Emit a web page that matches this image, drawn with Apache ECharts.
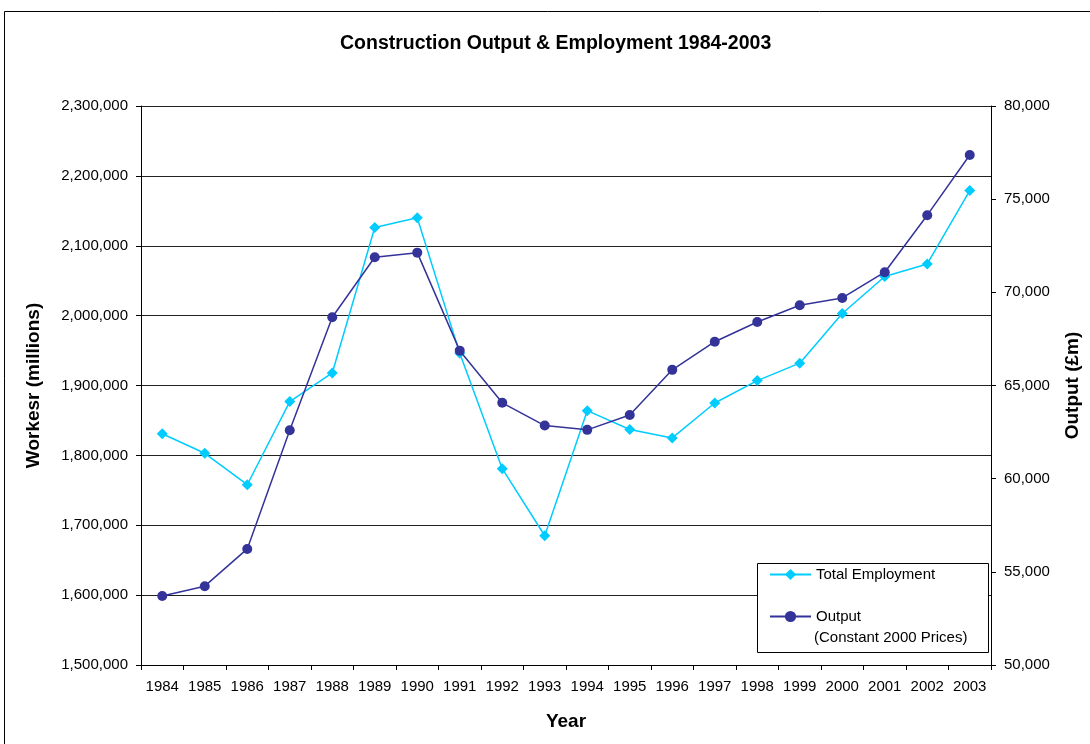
<!DOCTYPE html>
<html>
<head>
<meta charset="utf-8">
<script src="https://cdn.jsdelivr.net/npm/echarts@6/dist/echarts.min.js"></script>
<style>
  html, body { margin: 0; padding: 0; background: #fff; overflow: hidden; }
  #chart { width: 1090px; height: 744px; }
</style>
</head>
<body>
<div id="chart"></div>
<script>
// Years on the category axis
const years = ['1984','1985','1986','1987','1988','1989','1990','1991','1992','1993',
               '1994','1995','1996','1997','1998','1999','2000','2001','2002','2003'];

// Total construction employment (workers)
const totalEmployment = [1831000, 1803000, 1758000, 1877000, 1918000, 2126000, 2140000, 1946000,
                         1781000, 1685000, 1864000, 1837000, 1825000, 1875000, 1907000, 1932000,
                         2003000, 2056000, 2074000, 2179000];

// Construction output, £m at constant 2000 prices
const output = [53700, 54230, 56230, 62600, 68660, 71880, 72130, 66870, 64070, 62850,
                62620, 63420, 65840, 67350, 68410, 69310, 69700, 71080, 74140, 77370];

const FONT = '"Liberation Sans", Arial, Helvetica, sans-serif';
const fmt = v => v.toLocaleString('en-US');

const el = document.getElementById('chart');
const chart = echarts.init(el, null, { renderer: 'canvas', width: 1090, height: 744 });

chart.setOption({
  backgroundColor: '#ffffff',
  animation: false,
  textStyle: { fontFamily: FONT, color: '#000' },
  title: {
    text: 'Construction Output & Employment 1984-2003',
    left: 340,
    top: 34,
    padding: 0,
    textStyle: { fontFamily: FONT, fontSize: 19.5, fontWeight: 'bold', color: '#000' }
  },
  grid: { left: 141, right: 88, top: 106, bottom: 79, containLabel: false },
  legend: {
    orient: 'vertical',
    left: 769,
    top: 567,
    padding: 0,
    itemWidth: 41,
    itemHeight: 14,
    itemGap: 27,
    textStyle: { fontFamily: FONT, fontSize: 15, color: '#000' },
    data: ['Total Employment', 'Output']
  },
  xAxis: {
    type: 'category',
    data: years,
    boundaryGap: true,
    name: 'Year',
    nameLocation: 'middle',
    nameGap: 47,
    nameTextStyle: { fontFamily: FONT, fontSize: 19, fontWeight: 'bold', color: '#000' },
    axisLine: { lineStyle: { color: '#000', width: 1 } },
    axisTick: { show: true, length: 5, lineStyle: { color: '#000' } },
    axisLabel: { fontFamily: FONT, fontSize: 15, color: '#000', margin: 14, interval: 0 },
    splitLine: { show: false }
  },
  yAxis: [
    {
      type: 'value',
      position: 'left',
      min: 1500000,
      max: 2300000,
      interval: 100000,
      name: 'Workesr (millions)',
      nameLocation: 'middle',
      nameGap: 98,
      nameTextStyle: { fontFamily: FONT, fontSize: 19, fontWeight: 'bold', color: '#000' },
      axisLine: { show: true, lineStyle: { color: '#000', width: 1 } },
      axisTick: { show: true, length: 5, lineStyle: { color: '#000' } },
      axisLabel: { fontFamily: FONT, fontSize: 15, color: '#000', margin: 13, formatter: fmt },
      splitLine: { show: true, lineStyle: { color: '#222', width: 1 } }
    },
    {
      type: 'value',
      position: 'right',
      min: 50000,
      max: 80000,
      interval: 5000,
      name: 'Output (£m)',
      nameLocation: 'middle',
      nameGap: 72,
      nameTextStyle: { fontFamily: FONT, fontSize: 19, fontWeight: 'bold', color: '#000' },
      axisLine: { show: true, lineStyle: { color: '#000', width: 1 } },
      axisTick: { show: true, length: 5, lineStyle: { color: '#000' } },
      axisLabel: { fontFamily: FONT, fontSize: 15, color: '#000', margin: 13, formatter: fmt },
      splitLine: { show: false }
    }
  ],
  series: [
    {
      name: 'Total Employment',
      type: 'line',
      yAxisIndex: 0,
      data: totalEmployment,
      symbol: 'diamond',
      symbolSize: 11,
      itemStyle: { color: '#00CCFF' },
      lineStyle: { color: '#00CCFF', width: 1.5 },
      z: 3
    },
    {
      name: 'Output',
      type: 'line',
      yAxisIndex: 1,
      data: output,
      symbol: 'circle',
      symbolSize: 10,
      itemStyle: { color: '#333399' },
      lineStyle: { color: '#333399', width: 1.5 },
      z: 4
    }
  ],
  graphic: [
    {
      // outer chart frame
      type: 'rect',
      z: 1,
      silent: true,
      shape: { x: 4.5, y: 11.5, width: 1200, height: 900 },
      style: { fill: 'none', stroke: '#000', lineWidth: 1 }
    },
    {
      // legend box
      type: 'rect',
      z: 3,
      silent: true,
      shape: { x: 757.5, y: 563.5, width: 231, height: 89 },
      style: { fill: '#fff', stroke: '#000', lineWidth: 1 }
    },
    {
      type: 'text',
      z: 5,
      silent: true,
      x: 814,
      y: 638,
      style: {
        text: '(Constant 2000 Prices)',
        fontFamily: FONT,
        fontSize: 15,
        fill: '#000',
        verticalAlign: 'middle'
      }
    }
  ]
});
</script>
</body>
</html>
